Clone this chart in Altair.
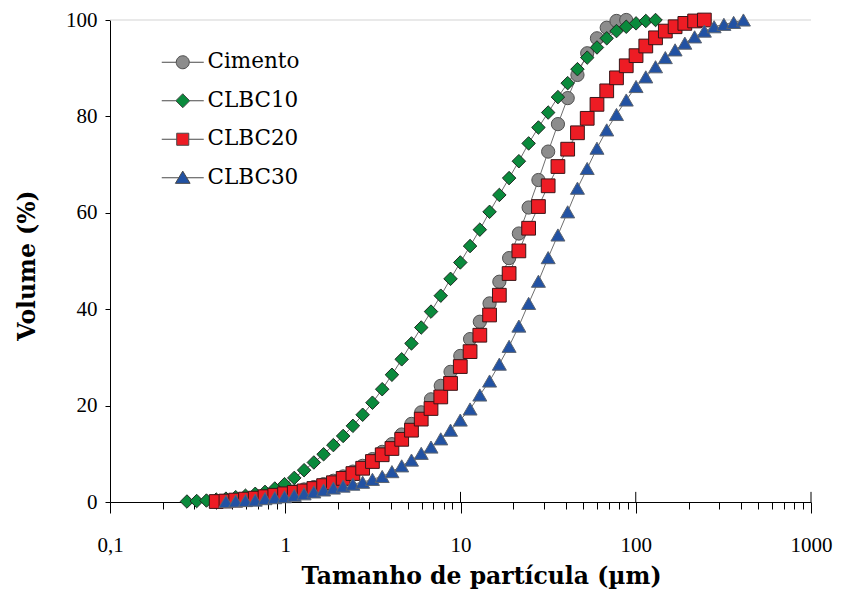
import altair as alt
import pandas as pd

# Particle-size grid (µm) shared by all analyses
grid_um = [0.2748, 0.3124, 0.3551, 0.4036, 0.4588, 0.5216, 0.5930, 0.6742, 0.7666, 0.8716,
           0.9908, 1.126, 1.281, 1.456, 1.655, 1.882, 2.140, 2.432, 2.765, 3.144,
           3.574, 4.062, 4.618, 5.251, 5.969, 6.787, 7.716, 8.773, 9.972, 11.34,
           12.89, 14.65, 16.66, 18.94, 21.53, 24.48, 27.84, 31.64, 35.97, 40.89,
           46.49, 52.85, 60.08, 68.30, 77.64, 88.27, 100.4, 114.1, 129.7, 147.5,
           167.7, 190.6, 216.7, 246.3, 280.0, 318.4, 361.9, 411.5]

# Cumulative volume (%)
cimento_start = 3
cimento = [0.1, 0.2, 0.4, 0.6, 0.9, 1.2, 1.5, 1.9, 2.2, 2.6, 3.1, 3.7, 4.4, 5.3, 6.3,
           7.5, 8.9, 10.4, 12.0, 14.0, 16.2, 18.6, 21.3, 24.1, 27.0, 30.3, 33.8, 37.4,
           41.2, 45.7, 50.6, 55.7, 61.1, 66.8, 72.7, 78.4, 83.8, 88.6, 93.1, 96.2, 98.4,
           99.8, 100.0]
clbc10_start = 0
clbc10 = [0.1, 0.2, 0.3, 0.5, 0.7, 1.0, 1.3, 1.7, 2.1, 2.8, 3.7, 5.0, 6.6, 8.2, 9.9,
          11.8, 13.7, 15.8, 18.1, 20.6, 23.4, 26.4, 29.6, 32.9, 36.2, 39.5, 42.8, 46.3,
          49.7, 53.1, 56.5, 60.2, 63.7, 67.2, 70.7, 74.4, 77.7, 80.8, 84.0, 86.9, 89.8,
          92.2, 94.3, 96.2, 97.7, 98.6, 99.3, 99.8, 100.0]
clbc20_start = 3
clbc20 = [0.1, 0.2, 0.4, 0.6, 0.8, 1.1, 1.4, 1.7, 2.0, 2.3, 2.8, 3.4, 4.0, 4.9, 5.9,
          7.0, 8.4, 9.8, 11.1, 13.0, 14.9, 17.2, 19.4, 21.8, 24.6, 28.1, 31.2, 34.6,
          38.8, 42.9, 47.4, 52.1, 56.8, 61.3, 65.6, 69.6, 73.2, 76.6, 79.6, 82.5, 85.3,
          88.0, 90.5, 92.6, 94.6, 96.3, 97.7, 98.6, 99.3, 99.8, 100.0]
clbc30_start = 4
clbc30 = [0.1, 0.2, 0.3, 0.4, 0.7, 0.9, 1.1, 1.4, 1.7, 2.1, 2.5, 2.9, 3.3, 3.7, 4.1,
          4.7, 5.3, 6.3, 7.5, 8.7, 10.1, 11.4, 13.1, 14.9, 17.0, 19.3, 22.2, 25.1,
          28.6, 32.3, 36.5, 41.2, 45.8, 50.7, 55.4, 60.2, 65.1, 69.2, 73.4, 77.2, 80.4,
          83.4, 86.2, 88.2, 90.3, 92.2, 93.8, 95.2, 96.5, 97.7, 98.6, 99.1, 99.5, 100.0]

series_names = ["Cimento", "CLBC10", "CLBC20", "CLBC30"]
series_starts = [cimento_start, clbc10_start, clbc20_start, clbc30_start]
series_values = [cimento, clbc10, clbc20, clbc30]

fill_colors = ["#8c8c8c", "#0a8a3c", "#ed1c24", "#2252a3"]
stroke_colors = ["#505050", "#1f2a22", "#3a1517", "#5c6470"]
legend_strokes = ["#4a4a4a", "#4a4a4a", "#4a4a4a", "#4a4a4a"]
marker_shapes = ["circle", "diamond", "square", "triangle-up"]
marker_sizes = [175, 196, 150, 220]
legend_paths = [
    "M-3,0H-0.93M0.93,0H3M0.93,0A0.93,0.93,0,1,1,-0.93,0A0.93,0.93,0,1,1,0.93,0Z",
    "M-3,0H-1M1,0H3M0,-1L1,0L0,1L-1,0Z",
    "M-3,0H-0.86M0.86,0H3M-0.86,-0.86H0.86V0.86H-0.86Z",
    "M-3,0H-0.56M0.56,0H3M0,-0.95L1.05,0.8H-1.05Z",
]

major_ticks = [0.1, 1, 10, 100, 1000]
all_ticks = [0.1, 0.2, 0.3, 0.4, 0.5, 0.6, 0.7, 0.8, 0.9,
             1, 2, 3, 4, 5, 6, 7, 8, 9,
             10, 20, 30, 40, 50, 60, 70, 80, 90,
             100, 200, 300, 400, 500, 600, 700, 800, 900, 1000]
y_ticks = [0, 20, 40, 60, 80, 100]

rows = []
for name, start, vals in zip(series_names, series_starts, series_values):
    for i, v in enumerate(vals):
        rows.append({"serie": name, "d": grid_um[start + i], "v": v})
df = pd.DataFrame(rows)

df_major = pd.DataFrame({"d": major_ticks[1:], "v": [0] * 4, "v2": [2.1] * 4})
df_top = pd.DataFrame({"v": [100]})

is_major = " || ".join(f"datum.value == {t}" for t in major_ticks)
label_expr = ("datum.value == 0.1 ? '0,1' : ((" + is_major + ") ? format(datum.value, 'd') : '')")

TICK_FONT = "Liberation Serif"
TITLE_FONT = "DejaVu Serif"

x_scale = alt.Scale(type="log", domain=[0.1, 1000])
y_scale = alt.Scale(domain=[0, 100])

x_axis = alt.Axis(
    values=all_ticks, labelExpr=label_expr, grid=False,
    tickSize={"condition": {"test": is_major, "value": 11}, "value": 7},
    labelPadding=21, labelFont=TICK_FONT, labelFontSize=21, labelBaseline="top",
    title="Tamanho de partícula (µm)", titleFont=TITLE_FONT, titleFontSize=23.5,
    titleFontWeight="bold", titleX=371, titleY=81, titleAlign="center",
    titleBaseline="alphabetic", labelOverlap=False, labelFlush=False,
)
y_axis = alt.Axis(
    values=y_ticks, grid=False, tickSize=5, labelPadding=8,
    labelFont=TICK_FONT, labelFontSize=21,
    title="Volume (%)", titleFont=TITLE_FONT, titleFontSize=23.5,
    titleFontWeight="bold", titleX=-76, titleY=245, titleAlign="center",
    titleBaseline="alphabetic", titleAngle=-90,
)

X = alt.X("d:Q", scale=x_scale, axis=x_axis)
Y = alt.Y("v:Q", scale=y_scale, axis=y_axis)

top_line = alt.Chart(df_top).mark_rule(color="#d4d4d4", strokeWidth=1.2).encode(y=Y)

inner_ticks = alt.Chart(df_major).mark_rule(color="black", strokeWidth=1).encode(
    x=X, y=Y, y2="v2:Q")

lines = alt.Chart(df).mark_line(color="#6e6e6e", strokeWidth=1).encode(
    x=X, y=Y, detail="serie:N")

points = alt.Chart(df).mark_point(filled=True, opacity=1, strokeWidth=1).encode(
    x=X, y=Y,
    shape=alt.Shape("serie:N", scale=alt.Scale(domain=series_names, range=marker_shapes), legend=None),
    fill=alt.Fill("serie:N", scale=alt.Scale(domain=series_names, range=fill_colors), legend=None),
    stroke=alt.Stroke("serie:N", scale=alt.Scale(domain=series_names, range=stroke_colors), legend=None),
    size=alt.Size("serie:N", scale=alt.Scale(domain=series_names, range=marker_sizes), legend=None),
)

legend_props = dict(
    title=None, orient="none", legendX=62, legendY=31.5, padding=0,
    labelFont=TITLE_FONT, labelFontSize=21.5, labelColor="black", labelOffset=14,
    rowPadding=15.5, symbolSize=196, symbolStrokeWidth=1,
    symbolOpacity=1, symbolOffset=0,
)
legend_layer = alt.Chart(df).transform_filter("false").mark_point(
    filled=True, opacity=1, strokeWidth=1).encode(
    x=X, y=Y,
    shape=alt.Shape("serie:N", scale=alt.Scale(domain=series_names, range=legend_paths),
                    legend=alt.Legend(**legend_props)),
    fill=alt.Fill("serie:N", scale=alt.Scale(domain=series_names, range=fill_colors),
                  legend=alt.Legend(**legend_props)),
    stroke=alt.Stroke("serie:N", scale=alt.Scale(domain=series_names, range=legend_strokes),
                      legend=alt.Legend(**legend_props)),
)

chart = alt.layer(top_line, inner_ticks, lines, points, legend_layer).resolve_scale(
    shape="independent", fill="independent", stroke="independent"
).properties(
    width=701, height=482,
    autosize=alt.AutoSizeParams(type="none"),
    padding={"left": 110, "top": 20, "right": 35, "bottom": 94},
).configure_view(stroke=None).configure_axis(
    domainColor="black", tickColor="black", labelColor="black", titleColor="black",
    domainWidth=1, tickWidth=1,
)

chart.save("out.html", embed_options={"renderer": "svg", "actions": False})
